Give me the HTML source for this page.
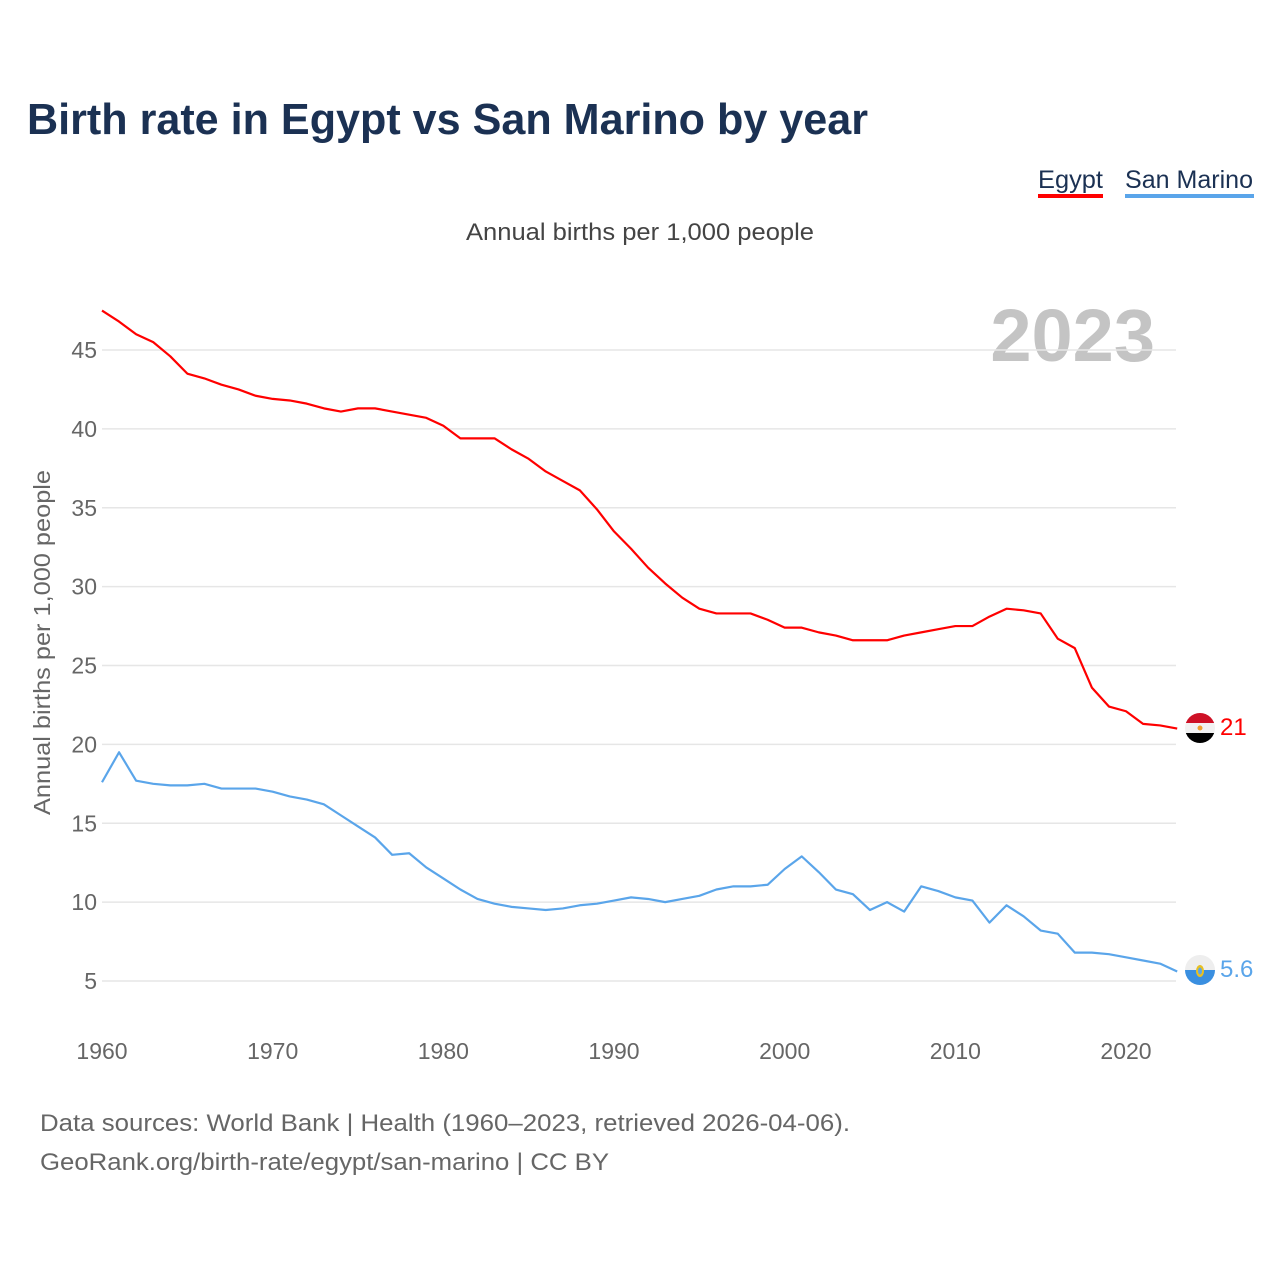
<!DOCTYPE html>
<html><head><meta charset="utf-8"><style>
body{margin:0;background:#fff;}
svg{display:block;font-family:"Liberation Sans",sans-serif;}
</style></head><body>
<svg id="chart" width="1280" height="1280" viewBox="0 0 1280 1280">
<text x="27" y="134" font-size="44" font-weight="bold" fill="#1b3153" textLength="841" lengthAdjust="spacingAndGlyphs">Birth rate in Egypt vs San Marino by year</text>
<g>
<text x="1038" y="188" font-size="25" fill="#1b3153" textLength="65" lengthAdjust="spacingAndGlyphs">Egypt</text>
<rect x="1038" y="194" width="65" height="4" fill="#ff0000"></rect></g>
<g>
<text x="1125" y="188" font-size="25" fill="#1b3153" textLength="128" lengthAdjust="spacingAndGlyphs">San Marino</text>
<rect x="1125" y="194" width="129" height="4" fill="#5aa5ea"></rect></g>
<text x="466" y="240" font-size="24" fill="#444" textLength="348" lengthAdjust="spacingAndGlyphs">Annual births per 1,000 people</text>
<text x="1155" y="361" font-size="74" font-weight="bold" fill="#c4c4c4" text-anchor="end">2023</text>
<text transform="translate(50,815) rotate(-90)" font-size="23" fill="#666" textLength="345" lengthAdjust="spacingAndGlyphs">Annual births per 1,000 people</text>
<g id="grid"></g><g id="xt"></g><g id="lines"></g>
<g>
<clipPath id="ce"><circle cx="1200" cy="728" r="15"></circle></clipPath>
<g clip-path="url(#ce)"><rect x="1185" y="713" width="30" height="10" fill="#ce1126"></rect><rect x="1185" y="723" width="30" height="10" fill="#f2f2f2"></rect><rect x="1185" y="733" width="30" height="10" fill="#000"></rect><circle cx="1200" cy="728" r="2.5" fill="#f0a030"></circle></g></g>
<text x="1220" y="735" font-size="24" fill="#ff0000">21</text>
<g>
<clipPath id="cs"><circle cx="1200" cy="970" r="15"></circle></clipPath>
<g clip-path="url(#cs)"><rect x="1185" y="955" width="30" height="15" fill="#eeeeee"></rect><rect x="1185" y="970" width="30" height="15" fill="#3a8fe0"></rect><ellipse cx="1200" cy="971" rx="4" ry="6" fill="#e8c020"></ellipse><ellipse cx="1200" cy="971" rx="2" ry="3.5" fill="#5aa5ea"></ellipse></g></g>
<text x="1220" y="977" font-size="24" fill="#5aa5ea">5.6</text>
<text x="40" y="1131" font-size="24" fill="#666" textLength="810" lengthAdjust="spacingAndGlyphs">Data sources: World Bank | Health (1960–2023, retrieved 2026-04-06).</text>
<text x="40" y="1170" font-size="24" fill="#666" textLength="569" lengthAdjust="spacingAndGlyphs">GeoRank.org/birth-rate/egypt/san-marino | CC BY</text>
</svg>
<script>
const startYear = 1960;
const yTicks = [5,10,15,20,25,30,35,40,45];
const xTicks = [1960,1970,1980,1990,2000,2010,2020];
const egypt = [47.5,46.8,46.0,45.5,44.6,43.5,43.2,42.8,42.5,42.1,41.9,41.8,41.6,41.3,41.1,41.3,41.3,41.1,40.9,40.7,40.2,39.4,39.4,39.4,38.7,38.1,37.3,36.7,36.1,34.9,33.5,32.4,31.2,30.2,29.3,28.6,28.3,28.3,28.3,27.9,27.4,27.4,27.1,26.9,26.6,26.6,26.6,26.9,27.1,27.3,27.5,27.5,28.1,28.6,28.5,28.3,26.7,26.1,23.6,22.4,22.1,21.3,21.2,21.0];
const sanMarino = [17.6,19.5,17.7,17.5,17.4,17.4,17.5,17.2,17.2,17.2,17.0,16.7,16.5,16.2,15.5,14.8,14.1,13.0,13.1,12.2,11.5,10.8,10.2,9.9,9.7,9.6,9.5,9.6,9.8,9.9,10.1,10.3,10.2,10.0,10.2,10.4,10.8,11.0,11.0,11.1,12.1,12.9,11.9,10.8,10.5,9.5,10.0,9.4,11.0,10.7,10.3,10.1,8.7,9.8,9.1,8.2,8.0,6.8,6.8,6.7,6.5,6.3,6.1,5.6];
const NS="http://www.w3.org/2000/svg";
function xs(yr){return 102+(yr-1960)*1024/60;}
function ys(v){return 981-(v-5)*631/40;}
const grid=document.getElementById('grid');
yTicks.forEach(t=>{
  const l=document.createElementNS(NS,'line');
  l.setAttribute('x1',102);l.setAttribute('x2',1176);l.setAttribute('y1',ys(t));l.setAttribute('y2',ys(t));
  l.setAttribute('stroke','#e6e6e6');l.setAttribute('stroke-width','1.5');
  
  
  grid.appendChild(l);
  const tx=document.createElementNS(NS,'text');
  tx.setAttribute('x',97);tx.setAttribute('y',ys(t)+8);tx.setAttribute('text-anchor','end');
  tx.setAttribute('font-size','23');tx.setAttribute('fill','#666');tx.textContent=t;
  
  
  grid.appendChild(tx);
});
const xt=document.getElementById('xt');
xTicks.forEach(t=>{
  const tx=document.createElementNS(NS,'text');
  tx.setAttribute('x',xs(t));tx.setAttribute('y',1059);tx.setAttribute('text-anchor','middle');
  tx.setAttribute('font-size','23');tx.setAttribute('fill','#666');tx.textContent=t;
  
  
  xt.appendChild(tx);
});
function line(arr,color,name){
  const p=document.createElementNS(NS,'polyline');
  p.setAttribute('points',arr.map((v,i)=>xs(startYear+i)+','+ys(v)).join(' '));
  p.setAttribute('fill','none');p.setAttribute('stroke',color);p.setAttribute('stroke-width','2.2');
  p.setAttribute('stroke-linejoin','round');
  
  
  document.getElementById('lines').appendChild(p);
}
line(egypt,'#ff0000','egypt-line');
line(sanMarino,'#5aa5ea','san-marino-line');
</script>
</body></html>
